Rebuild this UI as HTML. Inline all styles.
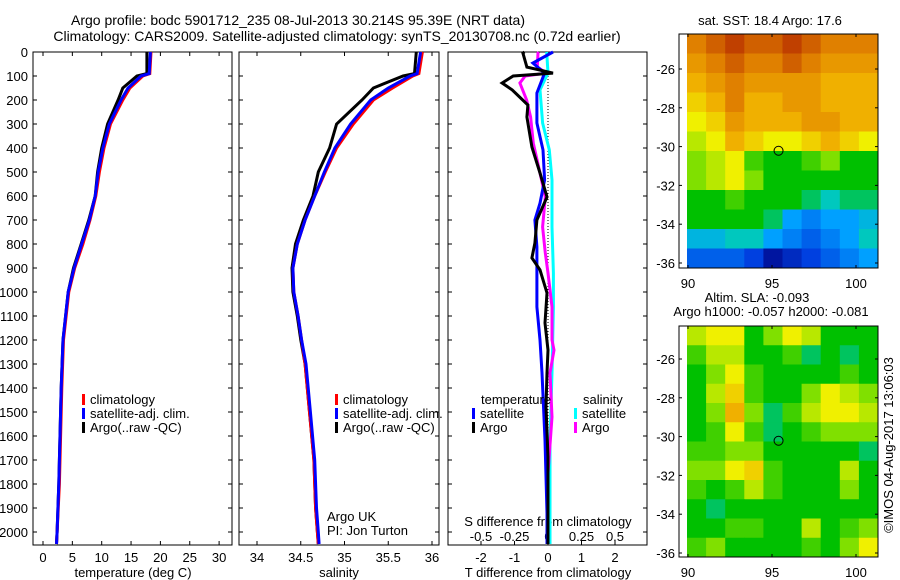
<!DOCTYPE html>
<html><head><meta charset="utf-8">
<style>
body{margin:0;background:#fff;}
svg{display:block;font-family:"Liberation Sans",sans-serif;font-size:13px;}
</style></head>
<body>
<svg id="fig" width="900" height="580" viewBox="0 0 900 580">
<text x="298" y="25" text-anchor="middle" style="font-size:14px">Argo profile: bodc 5901712_235 08-Jul-2013 30.214S 95.39E (NRT data)</text>
<text x="337" y="41" text-anchor="middle" style="font-size:14px">Climatology: CARS2009. Satellite-adjusted climatology: synTS_20130708.nc (0.72d earlier)</text>
<g id="g"></g>
</svg>
<script>
// ---- profile data ----
const depthT = [0,90,100,150,200,300,400,500,600,700,800,900,1000,1200,1400,1600,1800,2000,2050];
const tempClim = [18.4,18.2,17.0,14.8,13.6,11.5,10.4,9.6,9.0,8.0,6.8,5.4,4.4,3.5,3.2,3.0,2.8,2.4,2.3];
const tempSat  = [18.3,18.1,16.7,14.5,13.3,11.3,10.2,9.4,8.9,7.9,6.6,5.3,4.3,3.4,3.1,2.9,2.7,2.4,2.3];
const tempArgo = [17.7,17.7,16.0,13.6,12.8,11.0,10.0,9.3,8.9,7.8,6.5,5.2,4.3,3.4,3.1,2.9,2.7,2.4,2.3];
const depthS = [0,90,100,150,200,300,400,500,600,700,800,900,1000,1100,1200,1300,1500,1700,1900,2000,2050];
const salClim = [35.89,35.85,35.78,35.55,35.33,35.10,34.91,34.78,34.66,34.55,34.46,34.41,34.42,34.47,34.51,34.55,34.60,34.65,34.67,34.69,34.70];
const salSat  = [35.87,35.83,35.75,35.50,35.30,35.07,34.89,34.77,34.66,34.55,34.46,34.41,34.42,34.47,34.51,34.56,34.61,34.66,34.68,34.70,34.71];
const salArgo = [35.82,35.80,35.67,35.33,35.20,34.91,34.83,34.70,34.64,34.53,34.44,34.40,34.41,34.46,34.50,34.55,34.60,34.65,34.67,34.69,34.70];
// ---- difference data ----
const dDepthTS = [0,46,88,171,296,408,533,630,700,812,921,1062,1200,1337,1617,1921,2050];
const dTSat = [0.15,-0.45,-0.1,-0.33,-0.33,-0.15,-0.1,-0.24,-0.39,-0.33,-0.33,-0.33,-0.24,-0.18,-0.09,-0.03,-0.03];
const dDepthTA = [0,4,63,88,100,129,158,221,271,396,504,604,700,796,858,908,1004,1129,1242,1337,1479,1687,1921,2050];
const dTArgo = [-0.7,-0.75,-0.63,0.15,-1.04,-1.37,-1.07,-0.6,-0.63,-0.48,-0.24,-0.03,-0.33,-0.39,-0.48,-0.24,-0.03,-0.09,0,-0.03,-0.06,0,0,0];
const dDepthSS = [0,88,158,296,408,533,729,921,1062,1337,1617,1921,2050];
const dSSat = [-0.01,0,-0.06,-0.04,0.01,0.03,0.03,0.04,0.04,0.03,0.015,0.015,0.015];
const dDepthSA = [0,4,63,88,100,129,200,271,380,504,604,729,837,921,1062,1200,1242,1337,1521,1754,1921,2050];
const dSArgo = [-0.07,-0.075,-0.08,-0.01,-0.17,-0.21,-0.16,-0.13,-0.11,-0.06,-0.02,-0.04,-0.02,0,0.03,0.03,0.045,0.015,0.03,0,0,0];
const depthTicks = [0,100,200,300,400,500,600,700,800,900,1000,1100,1200,1300,1400,1500,1600,1700,1800,1900,2000];
const tTicks = [0,5,10,15,20,25,30];
const sTicks = [34,34.5,35,35.5,36];
const dTTicks = [-2,-1,0,1,2];
const dSTicks = [-0.5,-0.25,0,0.25,0.5];
const dSTickLabels = ["-0.5","-0.25","0","0.25","0.5"];
// ---- map data (colormap index 0..1) ----
const sstGrid = [
[0.9,0.95,1,0.95,0.95,1,0.95,0.9,0.9,0.9],
[0.85,0.9,0.95,0.9,0.9,0.95,0.9,0.85,0.85,0.85],
[0.8,0.85,0.9,0.85,0.85,0.85,0.85,0.8,0.8,0.8],
[0.75,0.8,0.9,0.8,0.8,0.85,0.85,0.8,0.8,0.8],
[0.7,0.75,0.85,0.8,0.8,0.8,0.85,0.85,0.8,0.8],
[0.65,0.7,0.8,0.75,0.7,0.7,0.75,0.8,0.75,0.7],
[0.6,0.65,0.7,0.55,0.5,0.5,0.55,0.6,0.5,0.5],
[0.6,0.65,0.7,0.6,0.5,0.5,0.5,0.5,0.5,0.5],
[0.5,0.5,0.55,0.5,0.5,0.5,0.45,0.4,0.45,0.45],
[0.5,0.5,0.5,0.5,0.45,0.3,0.25,0.3,0.3,0.35],
[0.35,0.35,0.4,0.4,0.3,0.25,0.2,0.25,0.3,0.4],
[0.2,0.2,0.2,0.15,0.05,0.1,0.15,0.2,0.25,0.3]];
const slaGrid = [
[0.65,0.7,0.7,0.5,0.6,0.7,0.65,0.5,0.5,0.5],
[0.55,0.65,0.65,0.5,0.5,0.55,0.45,0.5,0.45,0.5],
[0.5,0.6,0.7,0.55,0.5,0.5,0.5,0.5,0.55,0.5],
[0.5,0.65,0.75,0.55,0.5,0.5,0.6,0.7,0.65,0.6],
[0.5,0.6,0.8,0.6,0.45,0.55,0.65,0.7,0.7,0.65],
[0.5,0.55,0.7,0.55,0.45,0.5,0.55,0.6,0.6,0.6],
[0.55,0.55,0.6,0.6,0.5,0.5,0.5,0.5,0.5,0.45],
[0.6,0.6,0.7,0.75,0.55,0.5,0.5,0.5,0.65,0.5],
[0.55,0.5,0.55,0.65,0.55,0.5,0.5,0.5,0.6,0.5],
[0.5,0.45,0.5,0.5,0.5,0.5,0.5,0.5,0.5,0.5],
[0.5,0.5,0.55,0.55,0.5,0.5,0.65,0.5,0.55,0.6],
[0.55,0.6,0.5,0.5,0.5,0.5,0.55,0.5,0.6,0.7]];
const latTicks = [-26,-28,-30,-32,-34,-36];
const lonTicks = [90,95,100];
const argoLon = 95.39, argoLat = -30.214;

const NS="http://www.w3.org/2000/svg";
const G=document.getElementById('g');
function el(tag,attrs,parent){const e=document.createElementNS(NS,tag);for(const k in attrs)e.setAttribute(k,attrs[k]);(parent||G).appendChild(e);return e;}
function txt(x,y,s,anchor,parent){const e=el('text',{x:x,y:y,'text-anchor':anchor||'start'},parent);e.textContent=s;return e;}

const yTop=52, yBot=545;
const yD = d => yTop + d*0.24;
const xT = v => 43 + v*5.87;
const xS = v => 257 + (v-34)*87.5;
const xDT = v => 548 + v*33.5;
const xDS = v => 548 + v*134;

function panel(x0,x1,name){
  const r=el('rect',{x:x0,y:yTop,width:x1-x0,height:yBot-yTop,fill:'none',stroke:'#000','stroke-width':1});
  
  
  depthTicks.forEach(d=>{el('line',{x1:x0,x2:x0+4,y1:yD(d),y2:yD(d),stroke:'#000'});el('line',{x1:x1,x2:x1-4,y1:yD(d),y2:yD(d),stroke:'#000'});});
}
panel(33,232,'temperature-panel');
panel(239,439,'salinity-panel');
panel(448,647,'difference-panel');
depthTicks.forEach(d=>{const e=txt(28,yD(d)+5,String(d),'end');

});
tTicks.forEach(v=>{el('line',{x1:xT(v),x2:xT(v),y1:yBot,y2:yBot-4,stroke:'#000'});el('line',{x1:xT(v),x2:xT(v),y1:yTop,y2:yTop+4,stroke:'#000'});
const e=txt(xT(v),562,String(v),'middle');

});
sTicks.forEach(v=>{el('line',{x1:xS(v),x2:xS(v),y1:yBot,y2:yBot-4,stroke:'#000'});el('line',{x1:xS(v),x2:xS(v),y1:yTop,y2:yTop+4,stroke:'#000'});
const e=txt(xS(v),562,String(v),'middle');

});
dTTicks.forEach(v=>{el('line',{x1:xDT(v),x2:xDT(v),y1:yBot,y2:yBot-4,stroke:'#000'});
const e=txt(xDT(v),562,String(v),'middle');

});
dSTicks.forEach((v,i)=>{const e=txt(xDS(v),541,dSTickLabels[i],'middle');

});
let lbl;
lbl=txt(133,577,'temperature (deg C)','middle');


lbl=txt(339,577,'salinity','middle');


lbl=txt(548,577,'T difference from climatology','middle');


lbl=txt(548,526,'S difference from climatology','middle');


el('line',{x1:548,x2:548,y1:yTop,y2:yBot,stroke:'#000','stroke-dasharray':'1,2'});

function line(xs,ds,xf,color,name){
  const pts=xs.map((v,i)=>xf(v).toFixed(1)+','+yD(ds[i]).toFixed(1)).join(' ');
  const p=el('polyline',{points:pts,fill:'none',stroke:color,'stroke-width':3});
  
  
}
line(tempArgo,depthT,xT,'#000','temp-argo-line');
line(tempClim,depthT,xT,'#f00','temp-climatology-line');
line(tempSat,depthT,xT,'#00f','temp-satellite-line');
line(salArgo,depthS,xS,'#000','sal-argo-line');
line(salClim,depthS,xS,'#f00','sal-climatology-line');
line(salSat,depthS,xS,'#00f','sal-satellite-line');
line(dSSat,dDepthSS,xDS,'#0ff','s-diff-satellite-line');
line(dSArgo,dDepthSA,xDS,'#f0f','s-diff-argo-line');
line(dTSat,dDepthTS,xDT,'#00f','t-diff-satellite-line');
line(dTArgo,dDepthTA,xDT,'#000','t-diff-argo-line');

function legendItem(x,y,color,label,name){
  el('rect',{x:x-4,y:y-10,width:3,height:11,fill:color});
  const e=txt(x+4,y,label);
  
  
}
[[86,'temp'],[339,'sal']].forEach(([lx,p])=>{
  legendItem(lx,404,'#f00','climatology',p+'-legend-climatology');
  legendItem(lx,418,'#00f','satellite-adj. clim.',p+'-legend-satellite');
  legendItem(lx,432,'#000','Argo(..raw -QC)',p+'-legend-argo');
});
lbl=txt(481,404,'temperature');


lbl=txt(583,404,'salinity');


legendItem(476,418,'#00f','satellite','legend-t-satellite');
legendItem(476,432,'#000','Argo','legend-t-argo');
legendItem(578,418,'#0ff','satellite','legend-s-satellite');
legendItem(578,432,'#f0f','Argo','legend-s-argo');
lbl=txt(327,521,'Argo UK');


lbl=txt(327,535,'PI: Jon Turton');



// ---- maps ----
const cmapStops=[[0,[0,0,128]],[0.15,[0,64,224]],[0.3,[0,160,255]],[0.4,[0,200,190]],[0.5,[0,192,0]],[0.6,[128,224,0]],[0.7,[240,240,0]],[0.8,[240,176,0]],[0.9,[224,128,0]],[1,[192,64,0]]];
function cmap(v){for(let i=1;i<cmapStops.length;i++){if(v<=cmapStops[i][0]){const a=cmapStops[i-1],b=cmapStops[i];const f=(v-a[0])/(b[0]-a[0]);const c=a[1].map((x,k)=>Math.round(x+(b[1][k]-x)*f));return 'rgb('+c.join(',')+')';}}return 'rgb(192,64,0)';}
function drawMap(grid,y0,y1,latY0,name){
  const x0=679,x1=878,ix0=687;
  const rows=grid.length,cols=grid[0].length;
  const cw=(x1-ix0)/cols, ch=(y1-y0)/rows;
  const g=el('g',{});
  
  
  grid.forEach((row,r)=>row.forEach((v,c)=>{
    const cell=el('rect',{x:ix0+c*cw,y:y0+r*ch,width:cw+0.5,height:ch+0.5,fill:cmap(v)},g);
    
    
  }));
  el('rect',{x:x0,y:y0,width:x1-x0,height:y1-y0,fill:'none',stroke:'#000'});
  const lonX=l=>688+(l-90)*16.8, latY=l=>latY0+(l+26)*-19.4;
  lonTicks.forEach(l=>{el('line',{x1:lonX(l),x2:lonX(l),y1:y1,y2:y1-3,stroke:'#000'});el('line',{x1:lonX(l),x2:lonX(l),y1:y0,y2:y0+3,stroke:'#000'});
    const e=txt(lonX(l),y1+20,String(l),'middle');
    
    });
  latTicks.forEach(l=>{el('line',{x1:x0,x2:x0+3,y1:latY(l),y2:latY(l),stroke:'#000'});el('line',{x1:x1,x2:x1-3,y1:latY(l),y2:latY(l),stroke:'#000'});
    const e=txt(x0-4,latY(l)+5,String(l),'end');
    
    });
  const c=el('circle',{cx:lonX(argoLon),cy:latY(argoLat),r:4.5,fill:'none',stroke:'#000'});
  
  
}
drawMap(sstGrid,34,268,69,'sst-map');
drawMap(slaGrid,326,557,359,'sla-map');
lbl=txt(770,25,'sat. SST: 18.4 Argo: 17.6','middle');


lbl=txt(757,302,'Altim. SLA: -0.093','middle');


lbl=txt(771,316,'Argo h1000: -0.057 h2000: -0.081','middle');


lbl=el('text',{x:0,y:0,'text-anchor':'middle',transform:'translate(893,445) rotate(-90)'});
lbl.textContent='©IMOS 04-Aug-2017 13:06:03';


</script>
</body></html>
